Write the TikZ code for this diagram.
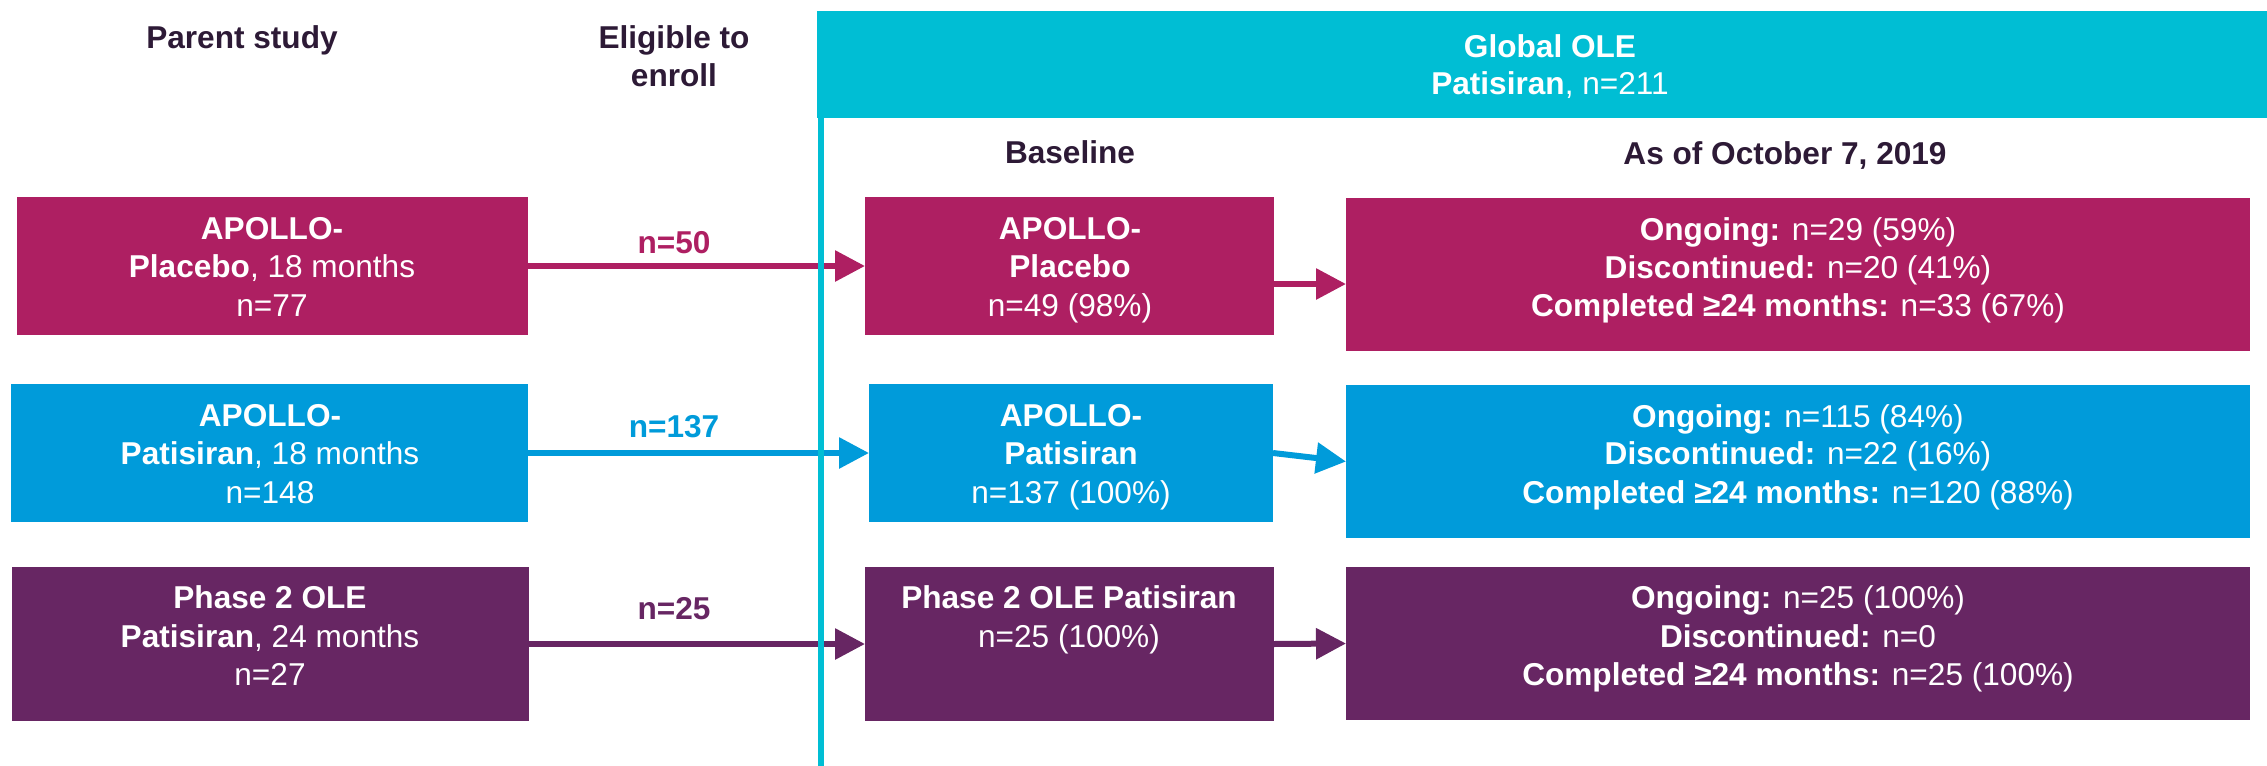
\documentclass[tikz,border=0pt]{standalone}
\usepackage{fontspec}
\setmainfont{Liberation Sans}
\usetikzlibrary{arrows.meta}
\definecolor{cMag}{HTML}{AE1F62}
\definecolor{cBlue}{HTML}{009BDA}
\definecolor{cPur}{HTML}{672663}
\definecolor{cCyan}{HTML}{00BED4}
\definecolor{cHead}{HTML}{2D1A36}
\tikzset{
  boxnode/.style={fill=#1, draw=none, inner sep=0pt, outer sep=0pt},
  txt/.style={anchor=base, inner sep=0pt, text=white, font=\fontsize{15.8}{19}\selectfont},
  headtxt/.style={anchor=base, inner sep=0pt, text=cHead, font=\fontsize{15.8}{19}\selectfont\bfseries},
  lbl/.style={anchor=base, inner sep=0pt, text=#1, font=\fontsize{15.8}{19}\selectfont\bfseries},
  flow/.style={draw=#1, line width=3pt, -{Triangle[length=15pt,width=15pt]}},
}
\begin{document}
\begin{tikzpicture}[x=0.5pt,y=-0.5pt]
\useasboundingbox (0,0) rectangle (2267,766);
% header band
\node[boxnode=cCyan, minimum width=725pt, minimum height=53.5pt] (hdr) at (1542,64.5) {};
\node[txt, font=\fontsize{15.8}{19}\selectfont\bfseries] (hdr1) at (1550,57) {Global OLE};
\node[txt] (hdr2) at (1550,94) {\textbf{Patisiran}, n=211};
% column headings
\node[headtxt] (h1) at (242,48) {Parent study};
\node[headtxt] (h2a) at (674,48) {Eligible to};
\node[headtxt] (h2b) at (674,86) {enroll};
\node[headtxt] (h3) at (1070,163) {Baseline};
\node[headtxt] (h4) at (1785,164) {As of October 7, 2019};
% boxes
\node[boxnode=cMag, minimum width=255.5pt, minimum height=69pt] (L1) at (272.5,266) {};
\node[boxnode=cMag, minimum width=204.5pt, minimum height=69pt] (M1) at (1069.5,266) {};
\node[boxnode=cMag, minimum width=452pt, minimum height=76.5pt] (R1) at (1798,274.5) {};
\node[boxnode=cBlue, minimum width=258.5pt, minimum height=69pt] (L2) at (269.5,453) {};
\node[boxnode=cBlue, minimum width=202pt, minimum height=69pt] (M2) at (1071,453) {};
\node[boxnode=cBlue, minimum width=452pt, minimum height=76.5pt] (R2) at (1798,461.5) {};
\node[boxnode=cPur, minimum width=258.5pt, minimum height=77pt] (L3) at (270.5,644) {};
\node[boxnode=cPur, minimum width=204.5pt, minimum height=77pt] (M3) at (1069.5,644) {};
\node[boxnode=cPur, minimum width=452pt, minimum height=76.5pt] (R3) at (1798,643.5) {};
% box texts row 1
\node[txt] (L1a) at (272,239) {\textbf{APOLLO-}};
\node[txt] (L1b) at (272,277) {\textbf{Placebo}, 18 months};
\node[txt] (L1c) at (272,316) {n=77};
\node[txt] (M1a) at (1070,239) {\textbf{APOLLO-}};
\node[txt] (M1b) at (1070,277) {\textbf{Placebo}};
\node[txt] (M1c) at (1070,316) {n=49 (98\%)};
\node[txt] (R1a) at (1798,240) {\textbf{Ongoing:} n=29 (59\%)};
\node[txt] (R1b) at (1798,278) {\textbf{Discontinued:} n=20 (41\%)};
\node[txt] (R1c) at (1798,316) {\textbf{Completed ≥24 months:} n=33 (67\%)};
% row 2
\node[txt] (L2a) at (270,426) {\textbf{APOLLO-}};
\node[txt] (L2b) at (270,464) {\textbf{Patisiran}, 18 months};
\node[txt] (L2c) at (270,503) {n=148};
\node[txt] (M2a) at (1071,426) {\textbf{APOLLO-}};
\node[txt] (M2b) at (1071,464) {\textbf{Patisiran}};
\node[txt] (M2c) at (1071,503) {n=137 (100\%)};
\node[txt] (R2a) at (1798,427) {\textbf{Ongoing:} n=115 (84\%)};
\node[txt] (R2b) at (1798,464) {\textbf{Discontinued:} n=22 (16\%)};
\node[txt] (R2c) at (1798,503) {\textbf{Completed ≥24 months:} n=120 (88\%)};
% row 3
\node[txt] (L3a) at (270,608) {\textbf{Phase 2 OLE}};
\node[txt] (L3b) at (270,647) {\textbf{Patisiran}, 24 months};
\node[txt] (L3c) at (270,685) {n=27};
\node[txt] (M3a) at (1069,608) {\textbf{Phase 2 OLE Patisiran}};
\node[txt] (M3b) at (1069,647) {n=25 (100\%)};
\node[txt] (R3a) at (1798,608) {\textbf{Ongoing:} n=25 (100\%)};
\node[txt] (R3b) at (1798,647) {\textbf{Discontinued:} n=0};
\node[txt] (R3c) at (1798,685) {\textbf{Completed ≥24 months:} n=25 (100\%)};
% arrow labels
\node[lbl=cMag] (e1) at (674,253) {n=50};
\node[lbl=cBlue] (e2) at (674,437) {n=137};
\node[lbl=cPur] (e3) at (674,619) {n=25};
% arrows
\draw[flow=cMag] (L1.east) -- (M1.west);
\draw[flow=cBlue] (L2.east) -- (M2.west);
\draw[flow=cPur] (L3.east) -- (M3.west);
\draw[flow=cMag] ([yshift=-9pt]M1.east) -- ([yshift=-9pt]M1.east -| R1.west);
\draw[flow=cBlue] (M2.east) -- (R2.west);
\draw[flow=cPur] (M3.east) -- (R3.west);
% vertical divider
\coordinate (vbot) at (821,766);
\draw[cCyan, line width=3pt] (hdr.south west -| vbot) -- (vbot);
\end{tikzpicture}
\end{document}
